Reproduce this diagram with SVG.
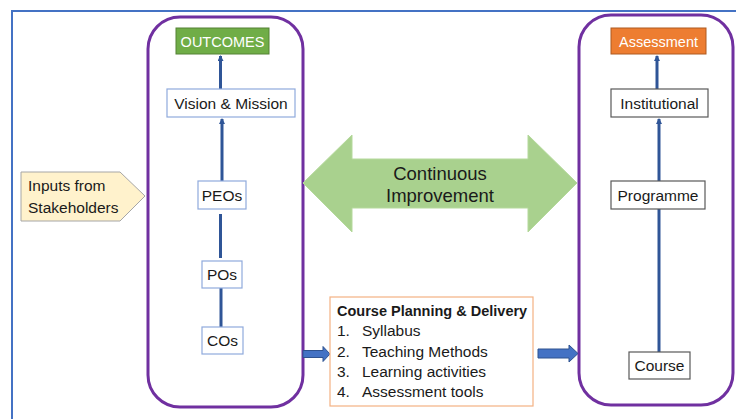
<svg xmlns="http://www.w3.org/2000/svg" width="736" height="419" viewBox="0 0 736 419">
<defs>
<marker id="ah" viewBox="0 0 6 6" refX="5" refY="3" markerWidth="2" markerHeight="2" orient="auto"><path d="M0,0 L6,3 L0,6 z" fill="#2F5597"/></marker>
</defs>
<style>
text{font-family:"Liberation Sans",Arial,sans-serif;fill:#1a1a1a}
.frame{fill:none;stroke:#7030A0;stroke-width:3}
.bx{fill:#fff;stroke:#8FAADC;stroke-width:1.2}
.kx{fill:#fff;stroke:#595959;stroke-width:1.2}
.c{stroke:#2F5597;stroke-width:3;fill:none}
.t{font-size:15.5px}
.w{fill:#fff;font-size:14.5px}
.ba{fill:#4472C4;stroke:#2F528F;stroke-width:1}
</style>
<rect x="0" y="0" width="736" height="419" fill="#fff"/>
<rect x="12" y="11" width="740" height="420" fill="none" stroke="#4472C4" stroke-width="2"/>
<g id="left-frame"><rect class="frame" x="148" y="17" width="155" height="390" rx="32"/></g>
<g id="right-frame"><rect class="frame" x="579" y="15" width="154" height="390" rx="32"/></g>
<g id="connectors">
<line class="c" x1="220.5" y1="89" x2="220.5" y2="56" marker-end="url(#ah)"/>
<line class="c" x1="222" y1="181" x2="222" y2="119" marker-end="url(#ah)"/>
<line class="c" x1="220.5" y1="214" x2="220.5" y2="258"/>
<line class="c" x1="221" y1="288" x2="221" y2="327"/>
<line class="c" x1="657" y1="89" x2="657" y2="56" marker-end="url(#ah)"/>
<line class="c" x1="659" y1="181" x2="659" y2="119" marker-end="url(#ah)"/>
<line class="c" x1="659" y1="352" x2="659" y2="209"/>
<path class="ba" d="M303,350.5 H323 V346.5 L330,354 L323,361.5 V357.5 H303 Z"/>
<path class="ba" d="M538,349 H569 V345 L578,353.5 L569,362 V358 H538 Z"/>
</g>
<g id="outcomes"><rect x="176" y="28" width="93" height="26" fill="#70AD47" stroke="#548235" stroke-width="1"/><text class="w" x="222.5" y="46.5" text-anchor="middle">OUTCOMES</text></g>
<g id="vision"><rect class="bx" x="167" y="89" width="128" height="28"/><text class="t" x="231" y="108.5" text-anchor="middle">Vision &amp; Mission</text></g>
<g id="peos"><rect class="bx" x="198" y="181" width="48" height="28"/><text class="t" x="222" y="200.5" text-anchor="middle">PEOs</text></g>
<g id="pos"><rect class="bx" x="202" y="261" width="40" height="27"/><text class="t" x="222" y="280" text-anchor="middle">POs</text></g>
<g id="cos"><rect class="bx" x="202" y="327" width="41" height="27"/><text class="t" x="222.5" y="346" text-anchor="middle">COs</text></g>
<g id="assessment"><rect x="611" y="28" width="95" height="26" fill="#ED7D31" stroke="#AE5A21" stroke-width="1"/><text class="w" x="658.5" y="46.5" text-anchor="middle">Assessment</text></g>
<g id="institutional"><rect class="kx" x="611" y="89" width="97" height="28"/><text class="t" x="659.5" y="108.5" text-anchor="middle">Institutional</text></g>
<g id="programme"><rect class="kx" x="611" y="181" width="94" height="28"/><text class="t" x="658" y="200.5" text-anchor="middle">Programme</text></g>
<g id="course"><rect class="kx" x="629" y="352" width="61" height="27"/><text class="t" x="659.5" y="371" text-anchor="middle">Course</text></g>
<g id="inputs"><path d="M21,172 H120 L145,196 L120,221 H21 Z" fill="#FFF2CC" stroke="#A6A6A6" stroke-width="1"/><text x="28" y="190.5" style="font-size:15.5px">Inputs from</text><text x="28" y="212.5" style="font-size:15.5px">Stakeholders</text></g>
<g id="continuous"><path d="M303,183 L352,135 V159 H528 V135 L577,183 L528,232 V208 H352 V232 Z" fill="#A9D18E" stroke="#B5D99C" stroke-width="1"/><text x="440" y="180" text-anchor="middle" style="font-size:18.5px">Continuous</text><text x="440" y="202" text-anchor="middle" style="font-size:18.5px">Improvement</text></g>
<g id="planning"><rect x="330" y="297" width="203" height="109" fill="#fff" stroke="#F4B183" stroke-width="1.2"/>
<text x="337" y="315.5" style="font-size:14.5px;font-weight:bold">Course Planning &amp; Delivery</text>
<text class="t" x="337" y="336">1.</text><text class="t" x="362" y="336">Syllabus</text>
<text class="t" x="337" y="357">2.</text><text class="t" x="362" y="357">Teaching Methods</text>
<text class="t" x="337" y="377">3.</text><text class="t" x="362" y="377">Learning activities</text>
<text class="t" x="337" y="397">4.</text><text class="t" x="362" y="397">Assessment tools</text>
</g>
</svg>
